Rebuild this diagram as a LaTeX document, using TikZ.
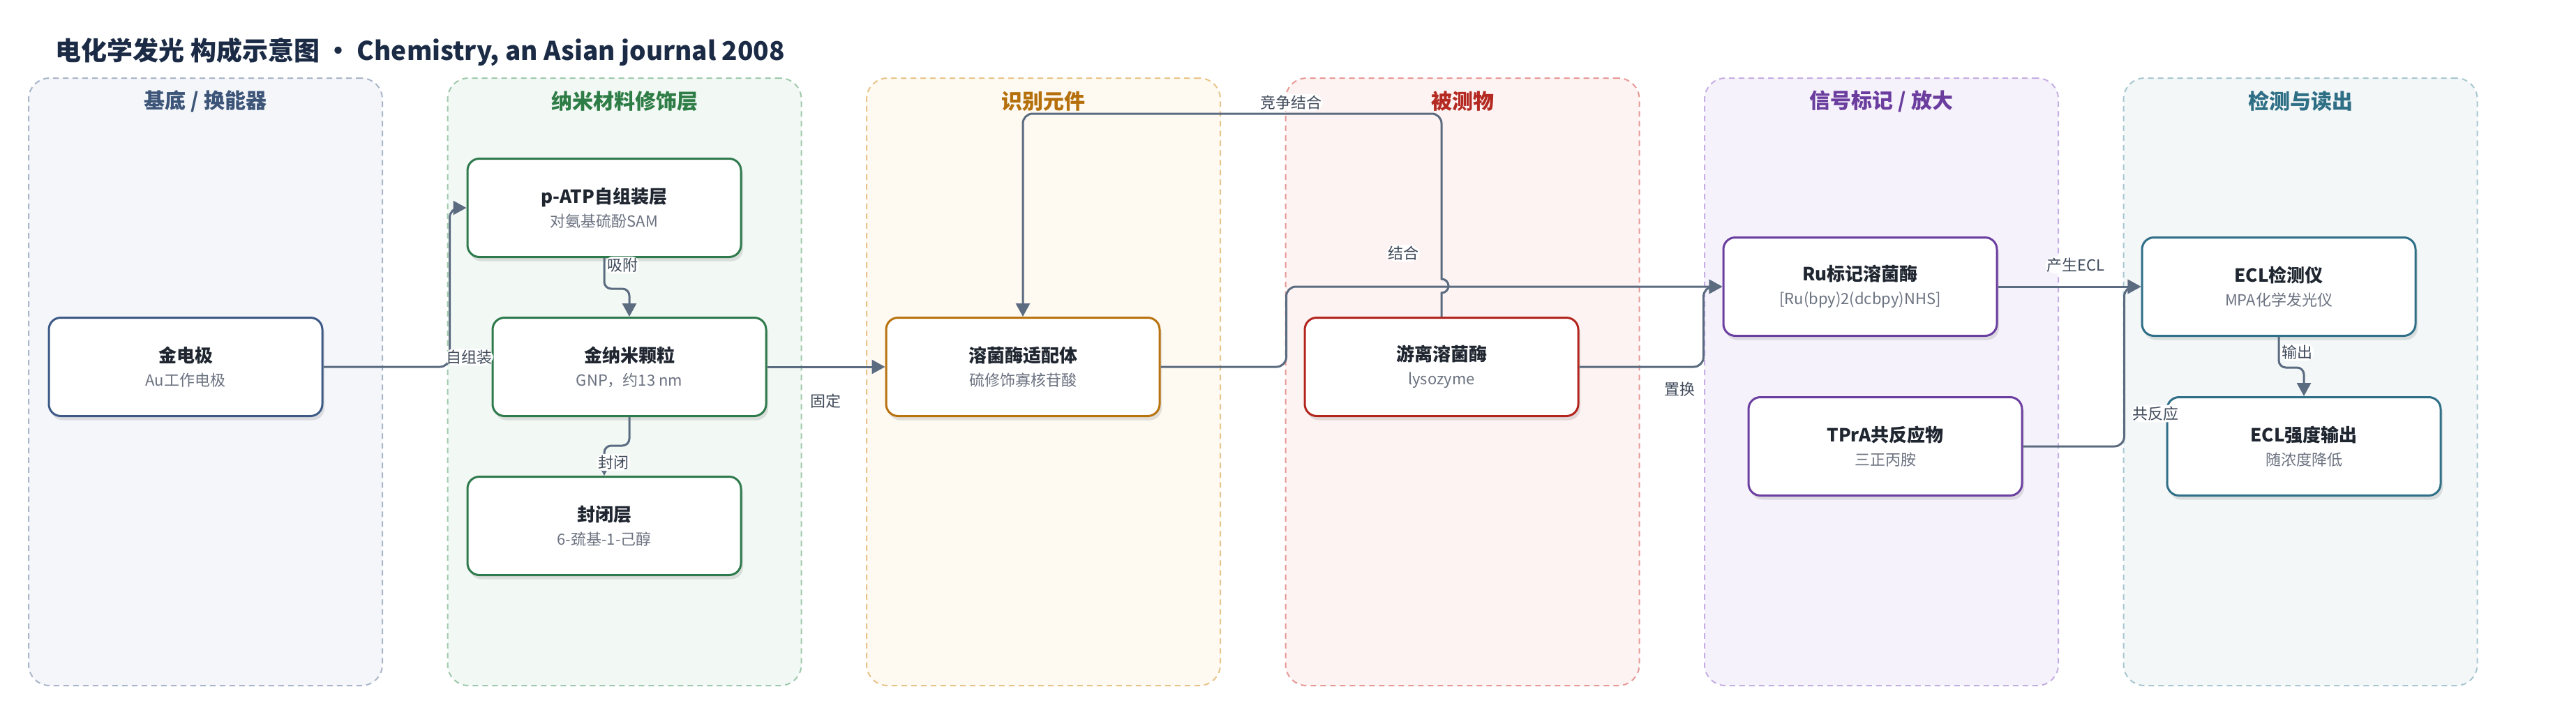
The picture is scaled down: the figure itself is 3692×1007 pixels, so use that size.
\documentclass[tikz,border=0pt]{standalone}
\usepackage{fontspec}
\setmainfont{Noto Sans CJK SC}
\usetikzlibrary{arrows.meta,shadows}
\definecolor{ink}{HTML}{1B2B45}
\definecolor{cardink}{HTML}{1F2630}
\definecolor{subc}{HTML}{6B7280}
\definecolor{labc}{HTML}{3F4A5A}
\definecolor{edgec}{HTML}{5B6B80}
\definecolor{c1}{HTML}{3D5A86}\definecolor{c1bg}{HTML}{F4F6FA}\definecolor{c1bd}{HTML}{A9B6C9}\definecolor{c1t}{HTML}{3C5578}
\definecolor{c2}{HTML}{2E7A4C}\definecolor{c2bg}{HTML}{F2F8F4}\definecolor{c2bd}{HTML}{9FC9AC}\definecolor{c2t}{HTML}{2E7D46}
\definecolor{c3}{HTML}{B8730F}\definecolor{c3bg}{HTML}{FEF9F1}\definecolor{c3bd}{HTML}{E8C48A}\definecolor{c3t}{HTML}{B5700B}
\definecolor{c4}{HTML}{B3261E}\definecolor{c4bg}{HTML}{FDF3F2}\definecolor{c4bd}{HTML}{E59A97}\definecolor{c4t}{HTML}{B42A22}
\definecolor{c5}{HTML}{6B3FA0}\definecolor{c5bg}{HTML}{F6F2FB}\definecolor{c5bd}{HTML}{C5AEE3}\definecolor{c5t}{HTML}{6A3D9E}
\definecolor{c6}{HTML}{2F6F87}\definecolor{c6bg}{HTML}{F3F7F8}\definecolor{c6bd}{HTML}{A8C7D1}\definecolor{c6t}{HTML}{2E6F86}
\newcommand\cardtitle[1]{{\fontsize{26}{34}\selectfont\bfseries #1}}
\newcommand\cardsub[1]{{\color{subc}#1}}
\tikzset{
  lane/.style={draw, line width=2, dash pattern=on 8pt off 6pt, rounded corners=30,
    minimum width=507, minimum height=871},
  lanetitle/.style={font=\fontsize{30}{36}\selectfont\bfseries},
  card/.style={draw, line width=3, rounded corners=17, fill=white, minimum width=392,
    minimum height=141, align=center, text=cardink, font=\fontsize{22}{34}\selectfont,
    drop shadow={shadow xshift=3pt, shadow yshift=-6pt, opacity=0.15, fill=black!70}},
  elab/.style={fill=white, inner sep=2pt, text=labc, font=\fontsize{22}{26}\selectfont},
  flow/.style={draw=edgec, line width=3, rounded corners=14, -{Triangle[length=19pt,width=20pt]}}
}
\begin{document}
\begin{tikzpicture}[x=1pt,y=-1pt]
  \useasboundingbox (0,0) rectangle (3692,1007);
  \node[anchor=west, text=ink, font=\fontsize{37}{42}\selectfont\bfseries] (title) at (76,75)
    {电化学发光 构成示意图 • Chemistry, an Asian journal 2008};
  \foreach \i/\t in {1/{基底 / 换能器}, 2/纳米材料修饰层, 3/识别元件, 4/被测物, 5/{信号标记 / 放大}, 6/检测与读出} {
    \node[lane, draw=c\i bd, fill=c\i bg] (lane\i) at ({294.5+600.5*(\i-1)},547.5) {};
    \node[lanetitle, text=c\i t] at ([yshift=-34pt]lane\i.north) {\t};
  }
  \node[card, draw=c1] (au) at (266,526) {\cardtitle{金电极}\\\cardsub{Au工作电极}};
  \node[card, draw=c2] (patp) at (866,298) {\cardtitle{p-ATP自组装层}\\\cardsub{对氨基硫酚SAM}};
  \node[card, draw=c2] (gnp) at (902,526) {\cardtitle{金纳米颗粒}\\\cardsub{GNP，约13 nm}};
  \node[card, draw=c2] (seal) at (866,754) {\cardtitle{封闭层}\\\cardsub{6-巯基-1-己醇}};
  \node[card, draw=c3] (apt) at (1466,526) {\cardtitle{溶菌酶适配体}\\\cardsub{硫修饰寡核苷酸}};
  \node[card, draw=c4] (free) at (2066,526) {\cardtitle{游离溶菌酶}\\\cardsub{lysozyme}};
  \node[card, draw=c5] (ru) at (2666,411) {\cardtitle{Ru标记溶菌酶}\\\cardsub{[Ru(bpy)2(dcbpy)NHS]}};
  \node[card, draw=c5] (tpra) at (2702,640) {\cardtitle{TPrA共反应物}\\\cardsub{三正丙胺}};
  \node[card, draw=c6] (ecl) at (3266,411) {\cardtitle{ECL检测仪}\\\cardsub{MPA化学发光仪}};
  \node[card, draw=c6] (out) at (3302,640) {\cardtitle{ECL强度输出}\\\cardsub{随浓度降低}};
  \begin{scope}[flow]
    \draw (au.east) -- ++(181,0) |- (patp.west) node[elab] at (672,512) {自组装};
    \draw[rounded corners=10] (patp.south) -- ++(0,44) -| (gnp.north) node[elab] at (892,380) {吸附};
    \draw[rounded corners=10] (gnp.south) -- ++(0,41) -| (seal.north) node[elab] at (879,663) {封闭};
    \draw (gnp.east) -- (apt.west) node[elab] at (1183,575) {固定};
    \draw[sharp corners] (free.north) -- ++(0,-34) arc[start angle=90, end angle=-90, radius=10]
      [rounded corners=14] -- ++(0,-237) -| (apt.north) node[elab] at (1850,147) {竞争结合};
    \draw (apt.east) -- ++(180,0) |- (ru.west) node[elab] at (2011,363) {结合};
    \draw (free.east) -- ++(178,0) |- (ru.west) node[elab] at (2407,558) {置换};
    \draw (ru.east) -- (ecl.west) node[elab] at (2975,380) {产生ECL};
    \draw (tpra.east) -- ++(145,0) |- (ecl.west) node[elab] at (3089,593) {共反应};
    \draw[rounded corners=10] (ecl.south) -- ++(0,44) -| (out.north) node[elab] at (3292,505) {输出};
  \end{scope}
\end{tikzpicture}
\end{document}
